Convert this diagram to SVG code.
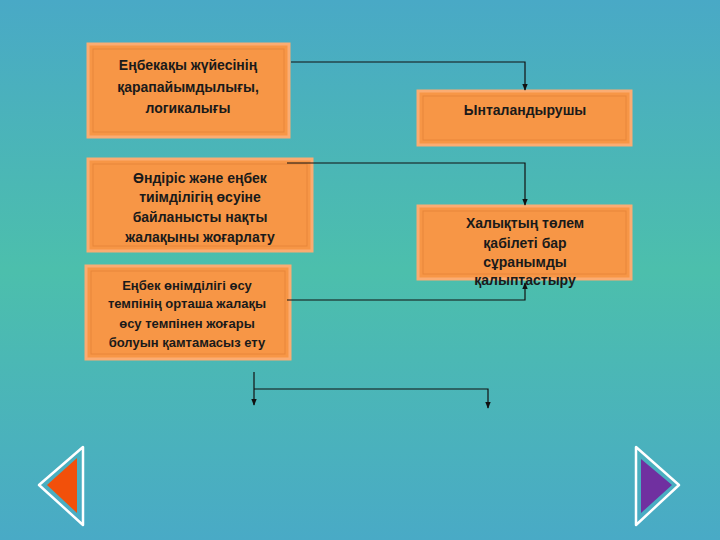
<svg xmlns="http://www.w3.org/2000/svg" width="720" height="540" viewBox="0 0 720 540">
<defs>
<linearGradient id="bg" x1="0" y1="0" x2="0" y2="1">
<stop offset="0" stop-color="#49a9c6"/>
<stop offset="0.5" stop-color="#4cbfac"/>
<stop offset="1" stop-color="#49aac6"/>
</linearGradient>
<marker id="ar" viewBox="0 0 10 10" refX="9" refY="5" markerWidth="6" markerHeight="6" orient="auto"><path d="M0,1 L10,5 L0,9 z" fill="#111"/></marker>
</defs>
<style>
.box{fill:#f79646;stroke:#fbac72;stroke-width:3}
.in{fill:none;stroke:#e8863a;stroke-width:1}
text{font-family:"Liberation Sans",Arial,sans-serif;font-size:14px;font-weight:bold;fill:#1a1a1a;text-anchor:middle}
.c{fill:none;stroke:#111;stroke-width:1.2}
</style>
<rect width="720" height="540" fill="url(#bg)"/>
<g id="n1"><rect class="box" x="88" y="44" width="201" height="93"/><rect class="in" x="93" y="49" width="191" height="83"/>
<text x="188" y="70">Еңбекақы жүйесінің</text><text x="188" y="92">қарапайымдылығы,</text><text x="188" y="113">логикалығы</text></g>
<g id="n2"><rect class="box" x="418" y="91" width="213" height="54"/><rect class="in" x="423" y="96" width="203" height="44"/>
<text x="525" y="115">Ынталандырушы</text></g>
<g id="n3"><rect class="box" x="88" y="159" width="224" height="92"/><rect class="in" x="93" y="164" width="214" height="82"/>
<text x="200" y="183">Өндіріс  және еңбек</text><text x="200" y="202">тиімділігің өсуіне</text><text x="200" y="222">байланысты нақты</text><text x="200" y="242">жалақыны жоғарлату</text></g>
<g id="n4"><rect class="box" x="86" y="266" width="204" height="93"/><rect class="in" x="91" y="271" width="194" height="83"/>
<text x="187" y="290" style="font-size:13px">Еңбек өнімділігі өсу</text><text x="187" y="308" style="font-size:13px">темпінің орташа жалақы</text><text x="187" y="328" style="font-size:13px">өсу темпінен жоғары</text><text x="187" y="347" style="font-size:13px">болуын қамтамасыз ету</text></g>
<g id="n5"><rect class="box" x="418" y="206" width="213" height="73"/><rect class="in" x="423" y="211" width="203" height="63"/>
<text x="525" y="228">Халықтың төлем</text><text x="525" y="248">қабілеті  бар</text><text x="525" y="267">сұранымды</text><text x="525" y="285">қалыптастыру</text></g>
<g id="connectors">
<polyline class="c" points="291,62 525,62 525,90" marker-end="url(#ar)"/>
<polyline class="c" points="287,163 525,163 525,205" marker-end="url(#ar)"/>
<polyline class="c" points="287,300 525,300 525,283" marker-end="url(#ar)"/>
<polyline class="c" points="254,372 254,405" marker-end="url(#ar)"/>
<polyline class="c" points="254,389 488,389 488,408" marker-end="url(#ar)"/>
</g>
<g id="navL"><polygon points="39,485 83,447 83,525" fill="none" stroke="#fff" stroke-width="2.5" stroke-linejoin="round"/><polygon points="47,485 77,458 77,513" fill="#f2500a"/></g>
<g id="navR"><polygon points="679,485 636,447 636,525" fill="none" stroke="#fff" stroke-width="2.5" stroke-linejoin="round"/><polygon points="672,485 641,459 641,513" fill="#7030a0"/></g>
</svg>
